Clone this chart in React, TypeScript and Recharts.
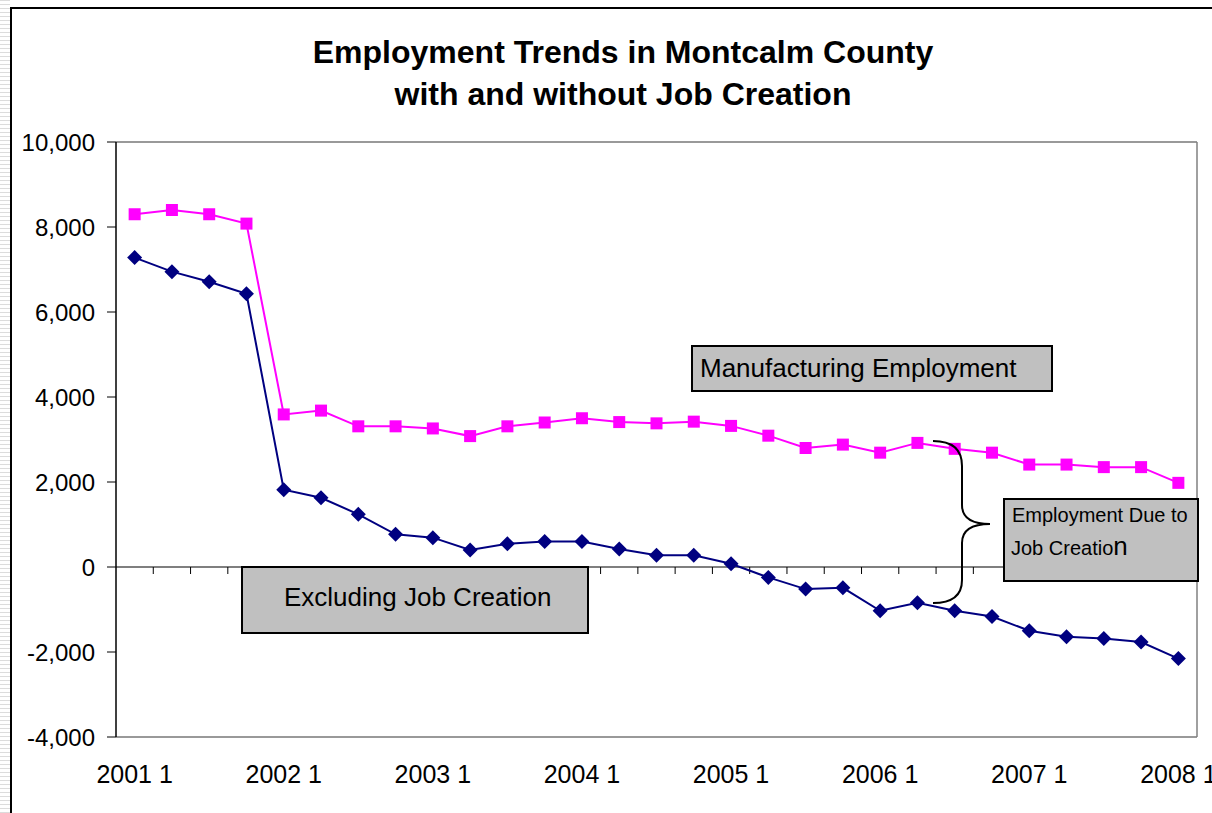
import React from 'react';
import { LineChart, Line, XAxis, YAxis, CartesianGrid, ReferenceLine } from 'recharts';

const quarters = [
  '2001 1', '2001 2', '2001 3', '2001 4',
  '2002 1', '2002 2', '2002 3', '2002 4',
  '2003 1', '2003 2', '2003 3', '2003 4',
  '2004 1', '2004 2', '2004 3', '2004 4',
  '2005 1', '2005 2', '2005 3', '2005 4',
  '2006 1', '2006 2', '2006 3', '2006 4',
  '2007 1', '2007 2', '2007 3', '2007 4',
  '2008 1',
];

const manufacturing = [
  8300, 8400, 8300, 8080,
  3590, 3680, 3310, 3310,
  3260, 3080, 3310, 3400,
  3500, 3410, 3380, 3420,
  3320, 3090, 2800, 2880,
  2690, 2920, 2780, 2690,
  2410, 2410, 2350, 2350,
  1980,
];

const excludingJobCreation = [
  7280, 6950, 6710, 6430,
  1820, 1630, 1240, 770,
  690, 400, 545, 600,
  600, 425, 275, 275,
  75, -245, -520, -490,
  -1030, -840, -1030, -1165,
  -1500, -1640, -1685, -1765,
  -2155,
];

const yTicks = [-4000, -2000, 0, 2000, 4000, 6000, 8000, 10000];
const titleLines = ['Employment Trends in Montcalm County', 'with and without Job Creation'];
const mfgLabel = 'Manufacturing Employment';
const exclLabel = 'Excluding Job Creation';
const dueLabel1 = 'Employment Due to';
const dueLabel2a = 'Job Creatio';
const dueLabel2b = 'n';

const FONT = '"Liberation Sans", Arial, Helvetica, sans-serif';
const MAGENTA = '#FF00FF';
const NAVY = '#000080';

const data = quarters.map((q, i) => ({
  q,
  mfg: manufacturing[i],
  excl: excludingJobCreation[i],
}));

const SquareDot = (props: any) => {
  const { cx, cy } = props;
  if (cx == null || cy == null) return null;
  return <rect x={cx - 6} y={cy - 6} width={12} height={12} fill={MAGENTA} stroke="none" />;
};

const DiamondDot = (props: any) => {
  const { cx, cy } = props;
  if (cx == null || cy == null) return null;
  const r = 7.5;
  return (
    <polygon
      points={`${cx},${cy - r} ${cx + r},${cy} ${cx},${cy + r} ${cx - r},${cy}`}
      fill={NAVY}
      stroke="none"
    />
  );
};

const ZeroAxis = (props: any) => {
  const { x1, x2, y1 } = props;
  const n = quarters.length;
  const ticks = [];
  for (let k = 1; k <= n; k++) {
    const x = x1 + ((x2 - x1) * k) / n;
    ticks.push(<line key={k} x1={x} x2={x} y1={y1} y2={y1 + 7} stroke="#000" strokeWidth={1} />);
  }
  return (
    <g>
      <line x1={x1} x2={x2} y1={y1} y2={y1} stroke="#000" strokeWidth={1.2} />
      {ticks}
    </g>
  );
};

export default function App() {
  return (
    <div style={{ position: 'absolute', left: 0, top: 0, width: 1212, height: 813, background: '#fff', overflow: 'hidden', fontFamily: FONT }}>
      <div
        style={{
          position: 'absolute', left: 0, top: 0, width: 10, height: 813,
          background: 'repeating-linear-gradient(to bottom, #dcdcdc 0px, #dcdcdc 1px, #ffffff 1px, #ffffff 4px)',
        }}
      />
      <div
        style={{
          position: 'absolute', left: 10, top: 7, width: 1220, height: 820,
          borderLeft: '2px solid #000', borderTop: '2px solid #000', boxSizing: 'border-box',
        }}
      />
      <div style={{ position: 'absolute', left: 0, top: 0 }}>
        <LineChart
          width={1212}
          height={813}
          data={data}
          margin={{ top: 142, right: 14, bottom: 0, left: 0 }}
        >
          <CartesianGrid vertical={false} stroke="#777777" strokeWidth={1.3} />
          <XAxis
            dataKey="q"
            scale="band"
            interval={3}
            tickLine={false}
            axisLine={false}
            tickSize={8}
            tickMargin={20}
            height={76}
            tick={{ fill: '#000', fontSize: 25, fontFamily: FONT }}
          />
          <YAxis
            yAxisId="left"
            domain={[-4000, 10000]}
            ticks={yTicks}
            interval={0}
            width={116}
            tickSize={9}
            tickMargin={12}
            axisLine={{ stroke: '#000', strokeWidth: 1.5 }}
            tickLine={{ stroke: '#000' }}
            tick={{ fill: '#000', fontSize: 24, fontFamily: FONT }}
            tickFormatter={(v: number) => v.toLocaleString('en-US')}
          />
          <YAxis
            yAxisId="right"
            orientation="right"
            width={1}
            domain={[-4000, 10000]}
            tick={false}
            tickLine={false}
            axisLine={{ stroke: '#808080', strokeWidth: 1.5 }}
          />
          <ReferenceLine yAxisId="left" y={0} shape={ZeroAxis} />
          <Line
            yAxisId="left"
            type="linear"
            dataKey="mfg"
            stroke={MAGENTA}
            strokeWidth={2}
            dot={SquareDot}
            activeDot={false}
            isAnimationActive={false}
          />
          <Line
            yAxisId="left"
            type="linear"
            dataKey="excl"
            stroke={NAVY}
            strokeWidth={2}
            dot={DiamondDot}
            activeDot={false}
            isAnimationActive={false}
          />
        </LineChart>
      </div>
      <svg
        width={1212}
        height={813}
        style={{ position: 'absolute', left: 0, top: 0, pointerEvents: 'none' }}
        fontFamily={FONT}
      >
        <text x={623} y={63} textAnchor="middle" fontSize={32} fontWeight="bold" fill="#000">
          {titleLines[0]}
        </text>
        <text x={623} y={105} textAnchor="middle" fontSize={32} fontWeight="bold" fill="#000">
          {titleLines[1]}
        </text>

        <rect x={692} y={346} width={360} height={45} fill="#C0C0C0" stroke="#000" strokeWidth={2} />
        <text x={700} y={377} fontSize={26} fill="#000">{mfgLabel}</text>

        <rect x={242} y={567} width={346} height={66} fill="#C0C0C0" stroke="#000" strokeWidth={2} />
        <text x={284} y={606} fontSize={26} fill="#000">{exclLabel}</text>

        <rect x={1004} y={499} width={194} height={82} fill="#C0C0C0" stroke="#000" strokeWidth={2} />
        <text x={1012} y={522} fontSize={20} fill="#000">{dueLabel1}</text>
        <text x={1011} y={555} fontSize={20} fill="#000">
          {dueLabel2a}
          <tspan fontSize={26}>{dueLabel2b}</tspan>
        </text>

        <path
          d="M 933 441 Q 962 441 962 466 L 962 505 Q 962 524 990 524 Q 962 524 962 543 L 962 580 Q 962 603 933 603"
          fill="none"
          stroke="#000"
          strokeWidth={2}
        />
      </svg>
    </div>
  );
}
